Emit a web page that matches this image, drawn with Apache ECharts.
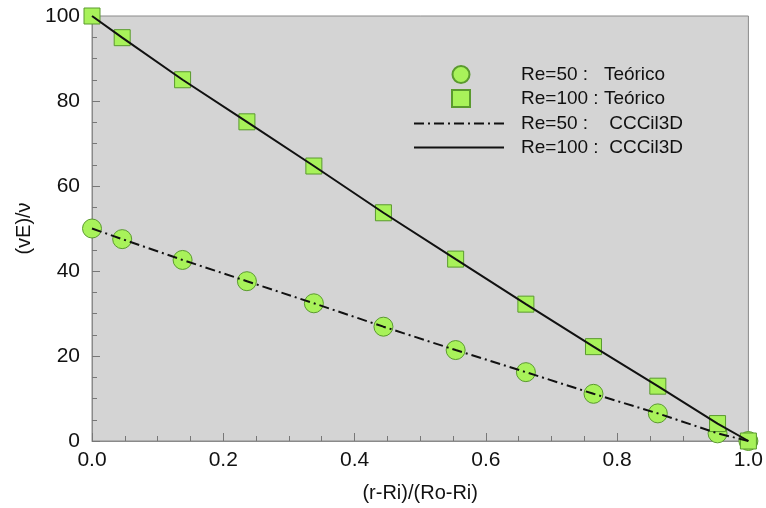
<!DOCTYPE html>
<html>
<head>
<meta charset="utf-8">
<script src="https://cdn.jsdelivr.net/npm/echarts@6/dist/echarts.min.js"></script>
<style>
  html, body { margin: 0; padding: 0; background: #fff; }
  #main { width: 766px; height: 508px; }
</style>
</head>
<body>
<div id="main"></div>
<script>
// datos
var xPos = [0, 0.046, 0.138, 0.236, 0.338, 0.444, 0.554, 0.661, 0.764, 0.862, 0.953, 1.0];
var teo50 = [50, 47.5, 42.6, 37.6, 32.4, 26.9, 21.4, 16.2, 11.1, 6.5, 1.8, 0];
var teo100 = [100, 94.9, 85.0, 75.1, 64.7, 53.7, 42.8, 32.2, 22.2, 12.9, 4.1, 0];
var cc50 = [50, 47.5, 42.6, 37.6, 32.4, 26.9, 21.4, 16.2, 11.1, 6.5, 1.8, 0];
var cc100 = [100, 94.9, 85.0, 75.1, 64.7, 53.7, 42.8, 32.2, 22.2, 12.9, 4.1, 0];
var names = ['Re=50 :   Teórico', 'Re=100 : Teórico', 'Re=50 :    CCCil3D', 'Re=100 :  CCCil3D'];

function pares(xs, ys) {
  var out = [];
  for (var i = 0; i < xs.length; i++) out.push([xs[i], ys[i]]);
  return out;
}

var font = 'Liberation Sans, Arial, sans-serif';
var verde = '#a8f25a';
var borde = '#5a9a2e';
var txtLeyenda = { fontFamily: font, fontSize: 19, color: '#111' };

var myChart = echarts.init(document.getElementById('main'));
var option = {
  animation: false,
  textStyle: { fontFamily: font },
  grid: {
    left: 92, right: 15, top: 16, bottom: 64,
    show: true,
    backgroundColor: '#d4d4d4',
    borderColor: '#8a8a8a',
    borderWidth: 1
  },
  legend: [
    {
      // simbolos
      data: [
        { name: names[0], icon: 'circle' },
        { name: names[1], icon: 'rect' }
      ],
      orient: 'vertical',
      left: 446,
      top: 60,
      itemWidth: 18,
      itemHeight: 17,
      itemGap: 5,
      selectedMode: false,
      textStyle: Object.assign({ padding: [0, 0, 0, 46] }, txtLeyenda)
    },
    {
      // lineas
      data: [names[2], names[3]],
      orient: 'vertical',
      left: 408,
      top: 109,
      itemWidth: 90,
      itemHeight: 17,
      itemGap: 5,
      selectedMode: false,
      itemStyle: { opacity: 0 },
      textStyle: Object.assign({ padding: [0, 0, 0, 12] }, txtLeyenda)
    }
  ],
  xAxis: {
    type: 'value',
    min: 0, max: 1, interval: 0.2,
    name: '(r-Ri)/(Ro-Ri)',
    nameLocation: 'middle',
    nameGap: 42,
    nameTextStyle: { fontFamily: font, fontSize: 20, color: '#111' },
    axisLine: { onZero: false, lineStyle: { color: '#8a8a8a', width: 1 } },
    axisTick: { inside: true, length: 8, lineStyle: { color: '#777' } },
    minorTick: { show: true, splitNumber: 4, length: 5, lineStyle: { color: '#777' } },
    splitLine: { show: false },
    axisLabel: {
      fontFamily: font, fontSize: 21, color: '#111', margin: 9,
      formatter: function (v) { return v.toFixed(1); }
    }
  },
  yAxis: {
    type: 'value',
    min: 0, max: 100, interval: 20,
    name: '(vE)/\u03bd',
    nameLocation: 'middle',
    nameGap: 58,
    nameRotate: 90,
    nameTextStyle: { fontFamily: font, fontSize: 20, color: '#111' },
    axisLine: { onZero: false, lineStyle: { color: '#8a8a8a', width: 1 } },
    axisTick: { inside: true, length: 8, lineStyle: { color: '#777' } },
    minorTick: { show: true, splitNumber: 4, length: 5, lineStyle: { color: '#777' } },
    splitLine: { show: false },
    axisLabel: { fontFamily: font, fontSize: 21, color: '#111', margin: 12 }
  },
  series: [
    {
      name: names[0],
      type: 'scatter',
      symbol: 'circle',
      symbolSize: 19,
      itemStyle: { color: verde, borderColor: borde, borderWidth: 1, opacity: 1 },
      data: pares(xPos, teo50),
      z: 2
    },
    {
      name: names[1],
      type: 'scatter',
      symbol: 'rect',
      symbolSize: 16,
      itemStyle: { color: verde, borderColor: borde, borderWidth: 1, opacity: 1 },
      data: pares(xPos, teo100),
      z: 2
    },
    {
      name: names[2],
      type: 'line',
      symbol: 'none',
      lineStyle: { color: '#111', width: 2, type: [10, 4, 2, 4] },
      itemStyle: { color: '#111' },
      data: pares(xPos, cc50),
      z: 3
    },
    {
      name: names[3],
      type: 'line',
      symbol: 'none',
      lineStyle: { color: '#111', width: 2, type: 'solid' },
      itemStyle: { color: '#111' },
      data: pares(xPos, cc100),
      z: 3
    }
  ]
};
myChart.setOption(option);
</script>
</body>
</html>
